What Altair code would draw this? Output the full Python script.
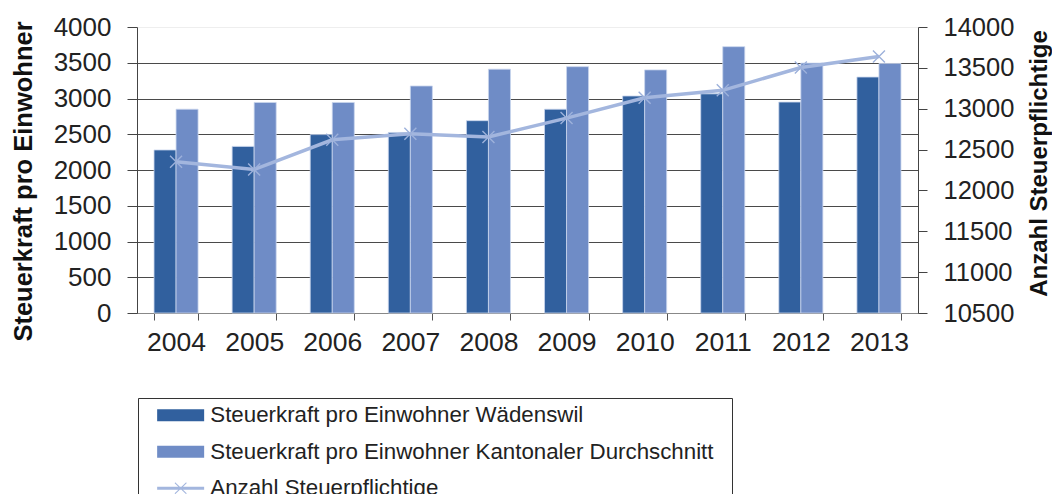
import altair as alt
import pandas as pd

years = [2004, 2005, 2006, 2007, 2008, 2009, 2010, 2011, 2012, 2013]
waedenswil = [2280, 2330, 2495, 2525, 2690, 2850, 3035, 3065, 2950, 3300]
kanton = [2850, 2945, 2945, 3175, 3410, 3445, 3400, 3725, 3495, 3490]
steuerpflichtige = [12350, 12255, 12620, 12695, 12655, 12885, 13135, 13225, 13505, 13640]

series_names = [
    "Steuerkraft pro Einwohner Wädenswil",
    "Steuerkraft pro Einwohner Kantonaler Durchschnitt",
    "Anzahl Steuerpflichtige",
]
colors = ["#31609e", "#6f8cc6", "#a3b6de"]
left_ticks = [0, 500, 1000, 1500, 2000, 2500, 3000, 3500, 4000]
right_ticks = [10500, 11000, 11500, 12000, 12500, 13000, 13500, 14000]

FONT = "Liberation Sans"

bars_df = pd.DataFrame({
    "year": years * 2,
    "series": [series_names[0]] * len(years) + [series_names[1]] * len(years),
    "value": waedenswil + kanton,
})
line_df = pd.DataFrame({"year": years, "count": steuerpflichtige})
legend_df = pd.DataFrame({"year": [years[0]] * 3, "series": series_names, "value": [-1000] * 3})

# legend symbol shapes (unit = 10 px with symbolSize 400)
rect_path = "M-1,-0.6H3.7V0.6H-1Z"
line_path = ("M-1,-0.15H3.7V0.15H-1Z"
             "M0.8,-0.6L1.95,0.5L1.9,0.6L0.75,-0.5Z"
             "M0.75,0.5L1.9,-0.6L1.95,-0.5L0.8,0.6Z")

xscale = alt.Scale(paddingInner=0.436, paddingOuter=0.218)
left_scale = alt.Scale(domain=[0, 4000], nice=False, zero=True)
right_scale = alt.Scale(domain=[10500, 14000], nice=False, zero=False)

x_axis = alt.Axis(
    title=None, labelAngle=0, labelFontSize=26.5, labelFont=FONT, labelColor="#222",
    tickBand="extent", tickSize=7, tickColor="#555", domainColor="#888",
    labelPadding=9, grid=False,
)

left_axis = alt.Axis(
    values=left_ticks, format="d", title="Steuerkraft pro Einwohner", titleFontSize=25.5,
    titleFont=FONT, titleFontWeight="bold", titleColor="#111", titleAngle=270,
    titleX=-114, titleY=154, titleAlign="center", titleBaseline="middle",
    labelFontSize=26, labelFont=FONT, labelColor="#222", labelPadding=16,
    tickSize=10, tickColor="#444", domainColor="#444",
    grid=True,
    gridColor={"condition": {"test": "datum.value >= 4000", "value": "#eeeeee"}, "value": "#4a4a4a"},
)

right_axis = alt.Axis(
    orient="right", values=right_ticks, format="d", title="Anzahl Steuerpflichtige",
    titleFontSize=24,
    titleFont=FONT, titleFontWeight="bold", titleColor="#111", titleAngle=270,
    titleX=121, titleY=136, titleAlign="center", titleBaseline="middle",
    labelFontSize=25.5, labelFont=FONT, labelColor="#222", labelPadding=16,
    tickSize=9, tickColor="#444", domainColor="#444", grid=False,
)

legend = alt.Legend(
    title=None, orient="none", legendX=1, legendY=371, direction="vertical",
    strokeColor="#333", padding=6, symbolOffset=12, rowPadding=13.5,
    labelFontSize=22.3, labelFont=FONT, labelColor="#222", labelLimit=1000,
    labelOffset=32, symbolSize=400, symbolStrokeWidth=0,
    labelExpr="datum.label + '\u00a0\u00a0\u200b'",
)

X = alt.X("year:O", scale=xscale, axis=x_axis)

bars = alt.Chart(bars_df).mark_bar(stroke="#c9d5ee", strokeWidth=0.8).encode(
    x=X,
    xOffset=alt.XOffset("series:N", sort=series_names[:2]),
    y=alt.Y("value:Q", scale=left_scale, axis=left_axis),
    color=alt.Color("series:N", scale=alt.Scale(domain=series_names[:2], range=colors[:2]),
                    legend=None),
)

line = alt.Chart(line_df).mark_line(color=colors[2], strokeWidth=3.5).encode(
    x=X,
    y=alt.Y("count:Q", scale=right_scale, axis=right_axis),
)

markers = alt.Chart(line_df).mark_point(
    shape="M-1,-1L1,1M-1,1L1,-1", filled=False, size=144, strokeWidth=1.4,
    color="#9db1db", opacity=1,
).encode(
    x=X,
    y=alt.Y("count:Q", scale=right_scale, axis=None),
)

legend_pts = alt.Chart(legend_df).mark_point(filled=True, opacity=1, clip=True).encode(
    x=X,
    y=alt.Y("value:Q", scale=left_scale, axis=None),
    color=alt.Color("series:N", scale=alt.Scale(domain=series_names, range=colors), legend=legend),
    shape=alt.Shape("series:N", scale=alt.Scale(domain=series_names,
                                                range=[rect_path, rect_path, line_path]),
                    legend=legend),
)

chart = alt.layer(bars, line, markers, legend_pts).resolve_scale(
    y="independent", color="independent", shape="independent"
).properties(
    width=781, height=286,
    padding={"left": 129, "top": 19, "right": 134, "bottom": 200},
    autosize=alt.AutoSizeParams(type="none"),
).configure_view(stroke=None)

chart.save("out.html", embed_options={"renderer": "svg", "actions": False})
